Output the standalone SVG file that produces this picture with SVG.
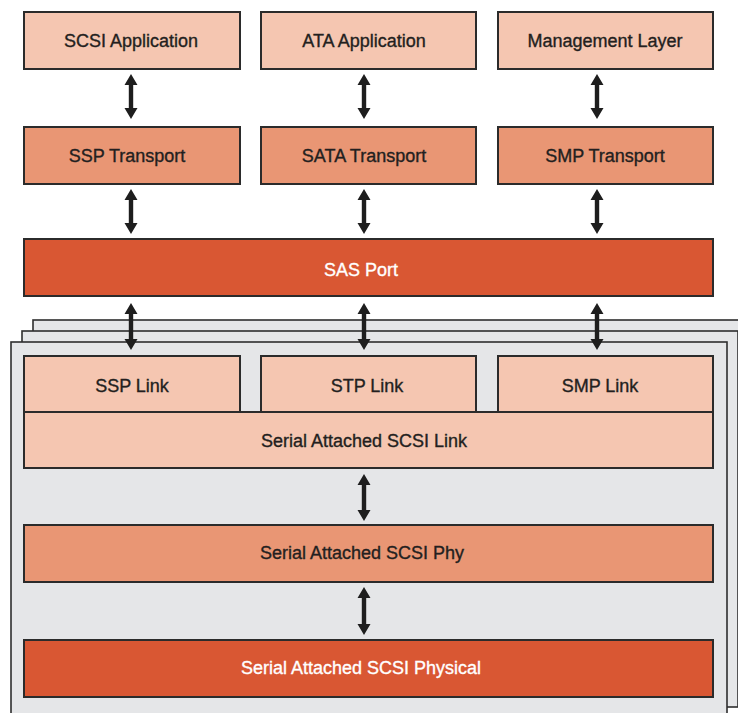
<svg xmlns="http://www.w3.org/2000/svg" width="738" height="713" viewBox="0 0 738 713">
<style>
.panel{fill:#e5e6e8;stroke:#2e2e2e;stroke-width:1.6}
.b{stroke:#2b2b2b;stroke-width:2}
.l1{fill:#f5c6b1}
.l2{fill:#e99674}
.l3{fill:#d95733}
text{font-family:"Liberation Sans",Arial,sans-serif;font-size:18px;text-anchor:middle;fill:#231f20;stroke:#231f20;stroke-width:0.35}
text.w{fill:#ffffff;stroke:#ffffff}
.arr{fill:#1e1e1e}
</style>
<rect width="738" height="713" fill="#ffffff"/>
<g id="panels">
<rect class="panel" x="33" y="320" width="716" height="376"/>
<rect class="panel" x="22" y="331" width="716" height="376"/>
<rect class="panel" x="11" y="342" width="716" height="380"/>
</g>
<g id="scsi-application"><rect class="b l1" x="24" y="12" width="216" height="57"/><text x="131" y="46.5">SCSI Application</text></g>
<g id="ata-application"><rect class="b l1" x="261" y="12" width="215" height="57"/><text x="364" y="46.5">ATA Application</text></g>
<g id="management-layer"><rect class="b l1" x="498" y="12" width="215" height="57"/><text x="605" y="46.5">Management Layer</text></g>
<g id="ssp-transport"><rect class="b l2" x="24" y="127" width="216" height="57"/><text x="127" y="162">SSP Transport</text></g>
<g id="sata-transport"><rect class="b l2" x="261" y="127" width="215" height="57"/><text x="364" y="162">SATA Transport</text></g>
<g id="smp-transport"><rect class="b l2" x="498" y="127" width="215" height="57"/><text x="605" y="162">SMP Transport</text></g>
<g id="sas-port"><rect class="b l3" x="24" y="239" width="689" height="57"/><text class="w" x="361" y="276">SAS Port</text></g>
<g id="ssp-link"><rect class="b l1" x="24" y="356" width="216" height="56"/><text x="132" y="392">SSP Link</text></g>
<g id="stp-link"><rect class="b l1" x="261" y="356" width="215" height="56"/><text x="367" y="392">STP Link</text></g>
<g id="smp-link"><rect class="b l1" x="498" y="356" width="215" height="56"/><text x="600" y="392">SMP Link</text></g>
<g id="sas-link"><rect class="b l1" x="24" y="412" width="689" height="56"/><text x="364" y="447">Serial Attached SCSI Link</text></g>
<g id="sas-phy"><rect class="b l2" x="24" y="525" width="689" height="57"/><text x="362" y="559">Serial Attached SCSI Phy</text></g>
<g id="sas-physical"><rect class="b l3" x="24" y="640" width="689" height="57"/><text class="w" x="361" y="674">Serial Attached SCSI Physical</text></g>
<g id="connectors" class="arr">
<path d="M131 74 L137.5 85 L133.2 85 L133.2 108 L137.5 108 L131 119 L124.5 108 L128.8 108 L128.8 85 L124.5 85 Z"/>
<path d="M364 74 L370.5 85 L366.2 85 L366.2 108 L370.5 108 L364 119 L357.5 108 L361.8 108 L361.8 85 L357.5 85 Z"/>
<path d="M597 74 L603.5 85 L599.2 85 L599.2 108 L603.5 108 L597 119 L590.5 108 L594.8 108 L594.8 85 L590.5 85 Z"/>
<path d="M131 189 L137.5 200 L133.2 200 L133.2 223 L137.5 223 L131 234 L124.5 223 L128.8 223 L128.8 200 L124.5 200 Z"/>
<path d="M364 189 L370.5 200 L366.2 200 L366.2 223 L370.5 223 L364 234 L357.5 223 L361.8 223 L361.8 200 L357.5 200 Z"/>
<path d="M597 189 L603.5 200 L599.2 200 L599.2 223 L603.5 223 L597 234 L590.5 223 L594.8 223 L594.8 200 L590.5 200 Z"/>
<path d="M131 303 L137.5 314 L133.2 314 L133.2 339 L137.5 339 L131 350 L124.5 339 L128.8 339 L128.8 314 L124.5 314 Z"/>
<path d="M364 303 L370.5 314 L366.2 314 L366.2 339 L370.5 339 L364 350 L357.5 339 L361.8 339 L361.8 314 L357.5 314 Z"/>
<path d="M597 303 L603.5 314 L599.2 314 L599.2 339 L603.5 339 L597 350 L590.5 339 L594.8 339 L594.8 314 L590.5 314 Z"/>
<path d="M364 474 L370.5 485 L366.2 485 L366.2 510 L370.5 510 L364 521 L357.5 510 L361.8 510 L361.8 485 L357.5 485 Z"/>
<path d="M364 587 L370.5 598 L366.2 598 L366.2 624 L370.5 624 L364 635 L357.5 624 L361.8 624 L361.8 598 L357.5 598 Z"/>
</g>
</svg>
